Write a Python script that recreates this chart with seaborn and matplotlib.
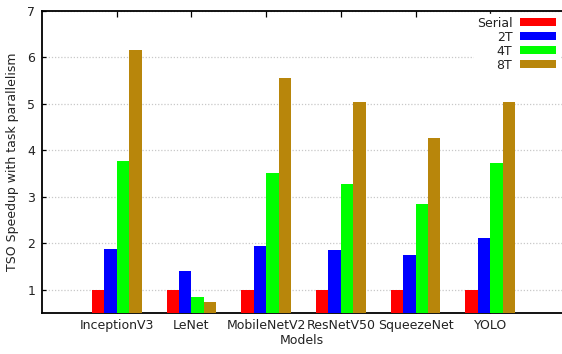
import matplotlib
matplotlib.use("Agg")
import matplotlib.pyplot as plt
import seaborn as sns
import pandas as pd

models = ["InceptionV3", "LeNet", "MobileNetV2", "ResNetV50", "SqueezeNet", "YOLO"]
serial = [1.0, 1.0, 1.0, 1.0, 1.0, 1.0]
t2 = [1.88, 1.41, 1.95, 1.86, 1.75, 2.12]
t4 = [3.77, 0.85, 3.52, 3.28, 2.85, 3.73]
t8 = [6.16, 0.74, 5.56, 5.04, 4.27, 5.04]
series = ["Serial", "2T", "4T", "8T"]
colors = ["#ff0000", "#0000ff", "#00ff00", "#b8860b"]

rows = []
for name, vals in zip(series, [serial, t2, t4, t8]):
    for m, v in zip(models, vals):
        rows.append({"Model": m, "Config": name, "Speedup": v})
df = pd.DataFrame(rows)

sns.set_style("white")
plt.rcParams["font.family"] = ["DejaVu Sans"]
plt.rcParams["font.size"] = 9
plt.rcParams["text.color"] = "#222222"
plt.rcParams["axes.labelcolor"] = "#222222"
plt.rcParams["xtick.color"] = "black"
plt.rcParams["ytick.color"] = "black"
plt.rcParams["xtick.labelcolor"] = "#222222"
plt.rcParams["ytick.labelcolor"] = "#222222"

fig = plt.figure(figsize=(5.62, 3.54), dpi=100)
ax = fig.add_axes([42 / 562, 1 - 313 / 354, 1 - 42 / 562, (313 - 11) / 354])

sns.barplot(data=df, x="Model", y="Speedup", hue="Config", hue_order=series,
            order=models, palette=colors, width=2 / 3, saturation=1,
            edgecolor="none", linewidth=0, ax=ax, zorder=3)

ax.set_ylim(0.5, 7)
ax.set_xlim(-1, 5.96)
ax.set_yticks([1, 2, 3, 4, 5, 6, 7])
ax.yaxis.grid(True, color="#c8c8c8", linestyle=(0, (1, 1.5)), linewidth=0.9, zorder=0)
ax.xaxis.grid(False)

for s in ["left", "top", "bottom"]:
    ax.spines[s].set_visible(True)
    ax.spines[s].set_color("black")
    ax.spines[s].set_linewidth(1.3)
ax.spines["right"].set_visible(False)

ax.tick_params(axis="x", direction="in", top=True, bottom=True, length=4,
               width=0.9, labelsize=9, pad=4)
ax.tick_params(axis="y", direction="in", left=True, length=3, width=0.9,
               labelsize=9, pad=5)

ax.set_xlabel("Models", fontsize=9, labelpad=2)
ax.set_ylabel("TSO Speedup with task parallelism", fontsize=9, labelpad=6)

leg = ax.legend(loc="upper right", bbox_to_anchor=(0.9995, 1.0),
                markerfirst=False, frameon=True, fancybox=False,
                facecolor="white", edgecolor="white", framealpha=1,
                fontsize=9, handlelength=2.9, handleheight=0.6,
                labelspacing=0.08, handletextpad=0.6, borderpad=0.25,
                borderaxespad=0.2)
leg.set_zorder(5)

fig.savefig("out.png", dpi=100)
